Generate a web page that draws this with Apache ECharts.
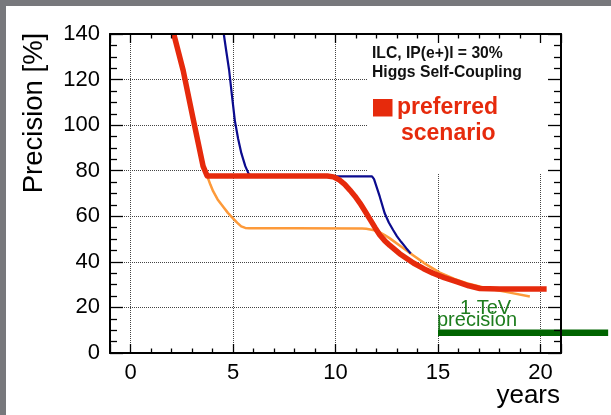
<!DOCTYPE html>
<html><head><meta charset="utf-8">
<script src="https://cdn.jsdelivr.net/npm/echarts@6/dist/echarts.min.js"></script>
<style>html,body{margin:0;padding:0;background:#fff}#c{width:611px;height:415px}</style>
</head><body><div id="c"></div>
<script>
// ---- data ----
const xTickLabels = [0, 5, 10, 15, 20];
const yTickLabels = [0, 20, 40, 60, 80, 100, 120, 140];
const xRange = [-1, 21];
const yRange = [0, 140];

// preferred scenario (thick red)
const preferred = [[2.11,140],[2.57,124],[3.05,103],[3.54,82],[3.74,77.7],[6.0,77.7],[9.6,77.7],[9.9,77.3],[10.2,75.9],[10.45,74.0],[10.7,71.5],[10.95,68.8],[11.2,65.7],[11.45,62.1],[11.7,58.4],[11.93,55.0],[12.16,51.8],[12.4,49.3],[12.65,47.2],[13.13,43.6],[13.8,39.5],[14.3,37.0],[14.76,35.0],[15.3,33.1],[15.9,31.3],[16.5,29.5],[17.04,28.3],[18.0,28.1],[20.3,28.1]];
// orange scenario
const scenarioOrange = [[2.11,140],[2.57,124],[3.05,103],[3.54,82],[3.74,77.7],[3.9,73.8],[4.03,71.0],[4.25,67.4],[4.52,64.2],[4.75,61.5],[5.0,59.1],[5.2,57.2],[5.4,55.6],[5.6,54.9],[5.8,54.7],[8.0,54.7],[11.3,54.6],[11.5,54.5],[11.7,54.2],[11.95,53.7],[12.16,53.0],[12.4,51.8],[12.65,50.3],[13.13,47.2],[13.8,42.8],[14.4,39.0],[15.09,35.3],[15.8,32.5],[16.4,30.6],[17.37,28.4],[18.5,26.5],[19.48,24.8]];
// blue scenario
const scenarioBlue = [[4.55,140],[4.68,132],[4.81,124.2],[4.95,113],[5.09,102],[5.25,94],[5.41,87.6],[5.6,82.0],[5.77,78.5],[5.95,77.5],[9.0,77.5],[11.78,77.5],[11.88,76.3],[12.0,73.0],[12.16,68.6],[12.4,61.3],[12.6,57.3],[12.81,54.0],[13.0,51.2],[13.2,48.8],[13.45,46.0],[13.67,43.7]];
// 1 TeV precision
const tevPrecision = [[15.0,8.9],[23.3,8.9]];

// ---- texts ----
const yTitle = 'Precision [%]';
const xTitle = 'years';
const infoLine1 = 'ILC, IP(e+)l = 30%';
const infoLine2 = 'Higgs Self-Coupling';
const legendLine1 = 'preferred';
const legendLine2 = 'scenario';
const tevLine1 = '1 TeV';
const tevLine2 = 'precision';

const FONT = "'Liberation Sans', Arial, Helvetica, sans-serif";
const RED = '#e62a0c';
const ORANGE = '#fd9a3a';
const BLUE = '#0b0b8e';
const GREEN = '#1e7d1e';

const chart = echarts.init(document.getElementById('c'), null, {renderer: 'canvas'});

const dotted = {color: '#444', width: 1, type: 'dotted'};
const tickStyle = {color: '#000', width: 1.3};

function frameAxis(extra) {
  return Object.assign({
    type: 'value',
    axisLine: {show: true, onZero: false, lineStyle: {color: '#000', width: 2}},
    axisLabel: {show: false},
    splitLine: {show: false}
  }, extra);
}

const option = {
  animation: false,
  backgroundColor: '#fff',
  grid: [
    {left: 110, top: 34, right: 50, bottom: 62},
    // wider helper grid with the same scale, for the 1 TeV line that runs past the frame
    {left: 110, top: 34, right: 2, bottom: 62, show: false}
  ],
  xAxis: [frameAxis({
    gridIndex: 0, min: xRange[0], max: xRange[1], position: 'bottom', z: 0,
    axisTick: {show: true, inside: true, length: 9, lineStyle: tickStyle},
    minorTick: {show: true, splitNumber: 5, length: 4.5, lineStyle: tickStyle},
    axisLabel: {show: true, margin: 9, color: '#000', fontSize: 22, fontFamily: FONT,
      formatter: v => (xTickLabels.indexOf(v) >= 0 ? String(v) : '')},
    splitLine: {show: true, showMinLine: false, showMaxLine: false, lineStyle: dotted}
  }), frameAxis({
    gridIndex: 0, min: xRange[0], max: xRange[1], position: 'top', z: 5,
    axisTick: {show: true, inside: true, length: 9, lineStyle: tickStyle},
    minorTick: {show: true, splitNumber: 5, length: 4.5, lineStyle: tickStyle}
  }), {
    type: 'value', gridIndex: 1, min: xRange[0], max: xRange[0] + (611 - 2 - 110) * (xRange[1] - xRange[0]) / (611 - 50 - 110),
    show: false
  }],
  yAxis: [frameAxis({
    gridIndex: 0, min: yRange[0], max: yRange[1], interval: 20, position: 'left', z: 0,
    axisTick: {show: true, inside: true, length: 13, lineStyle: tickStyle},
    minorTick: {show: true, splitNumber: 4, length: 7, lineStyle: tickStyle},
    axisLabel: {show: true, margin: 10, color: '#000', fontSize: 22, fontFamily: FONT,
      formatter: v => (yTickLabels.indexOf(v) >= 0 ? String(v) : '')},
    splitLine: {show: true, showMinLine: false, showMaxLine: false, lineStyle: dotted}
  }), frameAxis({
    gridIndex: 0, min: yRange[0], max: yRange[1], interval: 20, position: 'right', z: 5,
    axisTick: {show: true, inside: true, length: 13, lineStyle: tickStyle},
    minorTick: {show: true, splitNumber: 4, length: 7, lineStyle: tickStyle}
  }), {
    type: 'value', gridIndex: 1, min: yRange[0], max: yRange[1], show: false
  }],
  series: [
    {type: 'line', name: 'orange', data: scenarioOrange, xAxisIndex: 0, yAxisIndex: 0,
      showSymbol: false, smooth: false, z: 2,
      lineStyle: {color: ORANGE, width: 2.5, join: 'round'}},
    {type: 'line', name: 'blue', data: scenarioBlue, xAxisIndex: 0, yAxisIndex: 0,
      showSymbol: false, smooth: false, z: 3,
      lineStyle: {color: BLUE, width: 2.2, join: 'round'}},
    {type: 'line', name: legendLine1 + ' ' + legendLine2, data: preferred, xAxisIndex: 0, yAxisIndex: 0,
      showSymbol: false, smooth: false, z: 4,
      lineStyle: {color: RED, width: 5.5, join: 'round'}},
    {type: 'line', name: '1 TeV precision', data: tevPrecision, xAxisIndex: 2, yAxisIndex: 2,
      showSymbol: false, z: 4,
      lineStyle: {color: '#006400', width: 6.5, cap: 'butt'}}
  ],
  graphic: {
    elements: [
      // white panel behind the info text (hides grid lines)
      {type: 'rect', z: 1, silent: true, shape: {x: 368, y: 36, width: 192, height: 137}, style: {fill: '#fff'}},
      {type: 'text', z: 6, x: 372, y: 54, style: {text: infoLine1, fill: '#111', font: 'bold 15.7px ' + FONT, textAlign: 'left', textVerticalAlign: 'middle'}},
      {type: 'text', z: 6, x: 372, y: 73, style: {text: infoLine2, fill: '#111', font: 'bold 15.7px ' + FONT, textAlign: 'left', textVerticalAlign: 'middle'}},
      {type: 'rect', z: 6, shape: {x: 373, y: 99, width: 19.5, height: 17.5}, style: {fill: RED}},
      {type: 'text', z: 6, x: 447.5, y: 107.5, style: {text: legendLine1, fill: RED, font: 'bold 23px ' + FONT, textAlign: 'center', textVerticalAlign: 'middle'}},
      {type: 'text', z: 6, x: 448.3, y: 134, style: {text: legendLine2, fill: RED, font: 'bold 23px ' + FONT, textAlign: 'center', textVerticalAlign: 'middle'}},
      {type: 'text', z: 6, x: 460, y: 308.5, style: {text: tevLine1, fill: GREEN, font: '20px ' + FONT, textAlign: 'left', textVerticalAlign: 'middle'}},
      {type: 'text', z: 6, x: 437, y: 320, style: {text: tevLine2, fill: GREEN, font: '20px ' + FONT, textAlign: 'left', textVerticalAlign: 'middle'}},
      {type: 'text', z: 6, x: 34.5, y: 113, rotation: Math.PI / 2, style: {text: yTitle, fill: '#000', font: '27.5px ' + FONT, textAlign: 'center', textVerticalAlign: 'middle'}},
      {type: 'text', z: 6, x: 560, y: 396, style: {text: xTitle, fill: '#000', font: '26px ' + FONT, textAlign: 'right', textVerticalAlign: 'middle'}},
      // gray window border
      {type: 'rect', z: 100, silent: true, shape: {x: 0, y: 0, width: 611, height: 6}, style: {fill: '#77787c'}},
      {type: 'rect', z: 100, silent: true, shape: {x: 0, y: 0, width: 6, height: 415}, style: {fill: '#77787c'}}
    ]
  }
};
chart.setOption(option);
</script>
</body></html>
